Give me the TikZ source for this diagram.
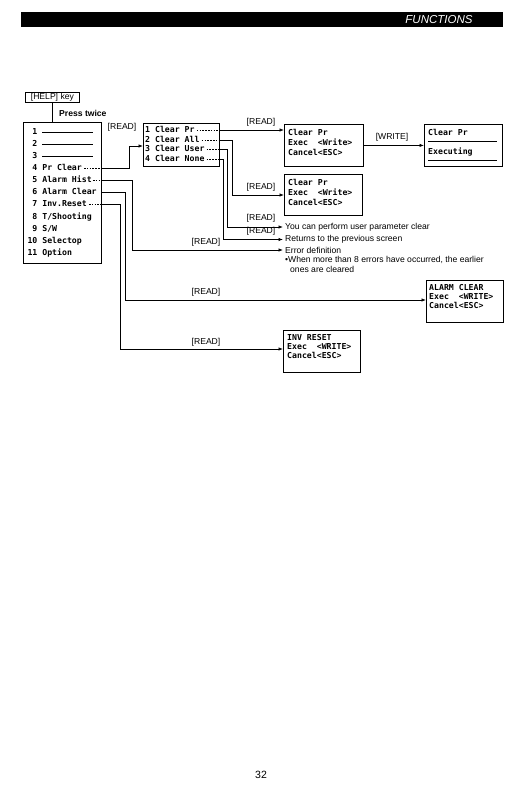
\documentclass[tikz,border=0pt]{standalone}
\usepackage{fontspec}
\setmainfont{Liberation Sans}
\newfontfamily\lcd{DejaVu Sans Mono}
\usetikzlibrary{arrows.meta}
\tikzset{
  lbl/.style={font=\fontsize{8.6}{10}\selectfont, inner sep=0pt},
  note/.style={font=\fontsize{8.6}{10}\selectfont, inner ysep=0pt, inner xsep=2pt, anchor=west},
  lcdt/.style={font=\lcd\bfseries\fontsize{8.2}{10}\selectfont, inner sep=0pt, anchor=west, text height=6pt, text depth=1.5pt},
  frame/.style={draw, line width=0.8pt, inner sep=0pt, anchor=north west},
  conn/.style={line width=0.65pt, -{Latex[length=4.5pt,width=3.4pt]}},
  plain/.style={line width=0.65pt},
  lead/.style={line width=0.65pt, dash pattern=on 1.6pt off 1.2pt},
}
\begin{document}
\begin{tikzpicture}[x=1pt,y=-1pt]
\useasboundingbox (0,0) rectangle (521,795);
% header
\fill[black] (21,12) rectangle (503,27);
\node[font=\itshape\fontsize{11.5}{12}\selectfont, text=white] (hdr) at (439,19.5) {FUNCTIONS};

% help key
\node[frame, lbl, minimum width=54pt, minimum height=10pt] (help) at (25,92) {[HELP] key};
\node[lbl, anchor=west, font=\bfseries\fontsize{8.6}{10}\selectfont] (press) at (59,113) {Press twice};

% main menu
\node[frame, minimum width=78pt, minimum height=141pt] (main) at (23,122) {};
\draw[plain] (help.south) -- (help.south |- main.north);
\node[lcdt] (i1) at (27,132) {\makebox[10.2pt][r]{1}};
\node[lcdt] (i2) at (27,144) {\makebox[10.2pt][r]{2}};
\node[lcdt] (i3) at (27,156) {\makebox[10.2pt][r]{3}};
\draw[plain] (42,132) -- (93,132);
\draw[plain] (42,144) -- (93,144);
\draw[plain] (42,156) -- (93,156);
\node[lcdt] (i4) at (27,168) {\makebox[10.2pt][r]{4} Pr Clear};
\node[lcdt] (i5) at (27,180.5) {\makebox[10.2pt][r]{5} Alarm Hist};
\node[lcdt] (i6) at (27,192.5) {\makebox[10.2pt][r]{6} Alarm Clear};
\node[lcdt] (i7) at (27,204.5) {\makebox[10.2pt][r]{7} Inv.Reset};
\node[lcdt] (i8) at (27,217) {\makebox[10.2pt][r]{8} T/Shooting};
\node[lcdt] (i9) at (27,229) {\makebox[10.2pt][r]{9} S/W};
\node[lcdt] (i10) at (27,241) {\makebox[10.2pt][r]{10} Selectop};
\node[lcdt] (i11) at (27,253) {\makebox[10.2pt][r]{11} Option};
\draw[lead] ([xshift=2pt]i4.east) -- (i4.east -| main.east);
\draw[lead] ([xshift=1pt]i5.east) -- (i5.east -| main.east);
\draw[lead] ([xshift=2pt]i7.east) -- (i7.east -| main.east);

% submenu
\node[frame, minimum width=76pt, minimum height=43pt] (sub) at (143,123) {};
\node[lcdt] (s1) at (145,130) {1 Clear Pr};
\node[lcdt] (s2) at (145,140) {2 Clear All};
\node[lcdt] (s3) at (145,149.5) {3 Clear User};
\node[lcdt] (s4) at (145,159) {4 Clear None};
\draw[lead] ([xshift=2pt]s1.east) -- (s1.east -| sub.east);
\draw[lead] ([xshift=2pt]s2.east) -- (s2.east -| sub.east);
\draw[lead] ([xshift=2pt]s3.east) -- (s3.east -| sub.east);
\draw[lead] ([xshift=2pt]s4.east) -- (s4.east -| sub.east);
\node[lbl] (r0) at (122,127) {[READ]};
\coordinate (b4) at (129,146);
\draw[conn] (i4.east -| main.east) -| (b4) -- (b4 -| sub.west);

% box 1
\node[frame, minimum width=79pt, minimum height=42pt] (box1) at (284,124) {};
\node[lcdt] (b1a) at (288,133) {Clear Pr};
\node[lcdt] (b1b) at (288,143) {Exec\ \ <Write>};
\node[lcdt] (b1c) at (288,153) {Cancel<ESC>};
\node[lbl] (r1) at (261,122) {[READ]};
\draw[conn] (s1.east -| sub.east) -- (s1.east -| box1.west);

% box 3
\node[frame, minimum width=78pt, minimum height=42pt] (box3) at (424,124) {};
\node[lcdt] (b3a) at (428,133) {Clear Pr};
\draw[plain] (428,141) -- (497,141);
\node[lcdt] (b3b) at (428,152) {Executing};
\draw[plain] (428,160) -- (497,160);
\node[lbl] (w1) at (392,137) {[WRITE]};
\draw[conn] (box1.east) -- (box3.west);

% box 2
\node[frame, minimum width=78pt, minimum height=41pt] (box2) at (284,174) {};
\node[lcdt] (b2a) at (288,183) {Clear Pr};
\node[lcdt] (b2b) at (288,193) {Exec\ \ <Write>};
\node[lcdt] (b2c) at (288,203) {Cancel<ESC>};
\node[lbl] (r2) at (261,187) {[READ]};
\coordinate (b2) at (232,195);
\draw[conn] (s2.east -| sub.east) -| (b2) -- (b2 -| box2.west);

% notes
\node[note] (you) at (283,227) {You can perform user parameter clear};
\node[note] (ret) at (283,239.5) {Returns to the previous screen};
\node[note] (err) at (283,250) {Error definition};
\node[note] (when) at (283,259.5) {•When more than 8 errors have occurred, the earlier};
\node[note] (ones) at (288,269.5) {ones are cleared};
\node[lbl] (r3) at (261,218) {[READ]};
\node[lbl] (r4) at (261,231.5) {[READ]};
\coordinate (b3) at (227,227);
\draw[conn] (s3.east -| sub.east) -| (b3) -- (you.west);
\coordinate (b4s) at (223,239.5);
\draw[conn] (s4.east -| sub.east) -| (b4s) -- (ret.west);

% alarm hist
\node[lbl] (r5) at (206,242) {[READ]};
\coordinate (b5) at (132,250);
\draw[conn] (i5.east -| main.east) -| (b5) -- (err.west);

% alarm clear
\node[frame, minimum width=77pt, minimum height=42pt] (alarm) at (426,280) {};
\node[lcdt] (aa) at (429,288) {ALARM CLEAR};
\node[lcdt] (ab) at (429,297) {Exec\ \ <WRITE>};
\node[lcdt] (ac) at (429,306) {Cancel<ESC>};
\node[lbl] (r6) at (206,292) {[READ]};
\coordinate (b6) at (125,300);
\draw[conn] (i6.east -| main.east) -| (b6) -- (b6 -| alarm.west);

% inv reset
\node[frame, minimum width=77pt, minimum height=42pt] (inv) at (283,330) {};
\node[lcdt] (ia) at (287,338) {INV RESET};
\node[lcdt] (ib) at (287,347) {Exec\ \ <WRITE>};
\node[lcdt] (ic) at (287,356) {Cancel<ESC>};
\node[lbl] (r7) at (206,342) {[READ]};
\coordinate (b7) at (120,349);
\draw[conn] (i7.east -| main.east) -| (b7) -- (b7 -| inv.west);

% page number
\node[font=\fontsize{10.5}{12}\selectfont] (pg) at (261,775) {32};
\end{tikzpicture}
\end{document}
